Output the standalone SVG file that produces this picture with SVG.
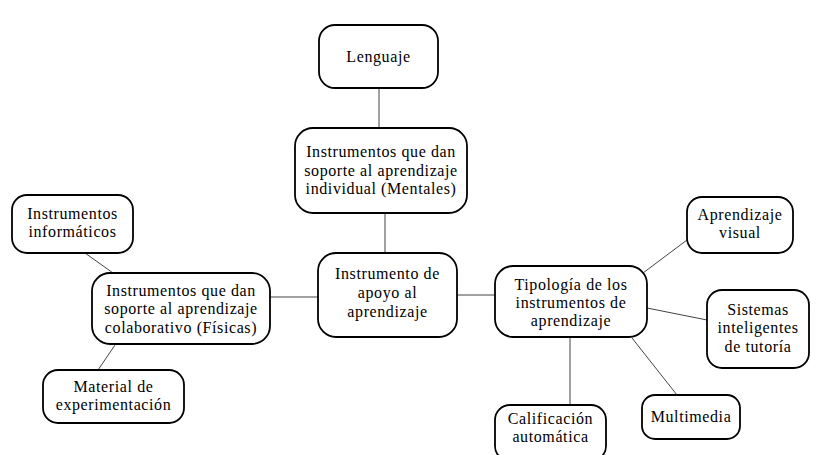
<svg xmlns="http://www.w3.org/2000/svg" width="816" height="455" viewBox="0 0 816 455">
<style>
.box{fill:#fff;stroke:#000;stroke-width:1.8}
text{font-family:'Liberation Serif','Times New Roman',serif;font-size:16px;letter-spacing:0.6px;fill:#000;text-anchor:middle}
.c line{stroke:#444;stroke-width:1}
</style>
<rect width="816" height="455" fill="#fff"/>
<g class="c" id="connectors">
<line x1="379" y1="88" x2="379" y2="128"/>
<line x1="385" y1="213" x2="385" y2="253"/>
<line x1="270" y1="297" x2="318" y2="297"/>
<line x1="457" y1="295" x2="495" y2="295"/>
<line x1="85" y1="253" x2="113" y2="273"/>
<line x1="115" y1="345" x2="98" y2="370"/>
<line x1="643" y1="273" x2="687" y2="240"/>
<line x1="647" y1="308" x2="707" y2="320"/>
<line x1="632" y1="338" x2="677" y2="395"/>
<line x1="570" y1="337" x2="570" y2="405"/>
</g>
<g id="lenguaje"><rect class="box" x="319" y="25" width="119" height="63" rx="16"/><text x="378.5" y="62">Lenguaje</text></g>
<g id="mentales"><rect class="box" x="295" y="128" width="172" height="85" rx="18"/><text x="381" y="157">Instrumentos que dan</text><text x="381" y="176">soporte al aprendizaje</text><text x="381" y="194">individual (Mentales)</text></g>
<g id="central"><rect class="box" x="318" y="253" width="139" height="84" rx="18"/><text x="387.5" y="279">Instrumento de</text><text x="387.5" y="298">apoyo al</text><text x="387.5" y="317">aprendizaje</text></g>
<g id="tipologia"><rect class="box" x="495" y="266" width="152" height="71" rx="18"/><text x="571" y="290">Tipología de los</text><text x="571" y="308">instrumentos de</text><text x="571" y="326">aprendizaje</text></g>
<g id="fisicas"><rect class="box" x="92" y="273" width="178" height="71" rx="18"/><text x="181" y="296">Instrumentos que dan</text><text x="181" y="314">soporte al aprendizaje</text><text x="181" y="333">colaborativo (Físicas)</text></g>
<g id="informaticos"><rect class="box" x="12" y="195" width="121" height="58" rx="15"/><text x="72.5" y="219">Instrumentos</text><text x="72.5" y="237">informáticos</text></g>
<g id="material"><rect class="box" x="43" y="370" width="141" height="53" rx="15"/><text x="113.5" y="392">Material de</text><text x="113.5" y="410">experimentación</text></g>
<g id="visual"><rect class="box" x="687" y="197" width="106" height="56" rx="15"/><text x="740" y="220">Aprendizaje</text><text x="740" y="238">visual</text></g>
<g id="sistemas"><rect class="box" x="707" y="290" width="102" height="78" rx="15"/><text x="758" y="315">Sistemas</text><text x="758" y="333">inteligentes</text><text x="758" y="352">de tutoría</text></g>
<g id="multimedia"><rect class="box" x="642" y="395" width="98" height="44" rx="13"/><text x="691" y="422">Multimedia</text></g>
<g id="calificacion"><rect class="box" x="495" y="405" width="111" height="56" rx="15"/><text x="550.5" y="424">Calificación</text><text x="550.5" y="442">automática</text></g>
</svg>
